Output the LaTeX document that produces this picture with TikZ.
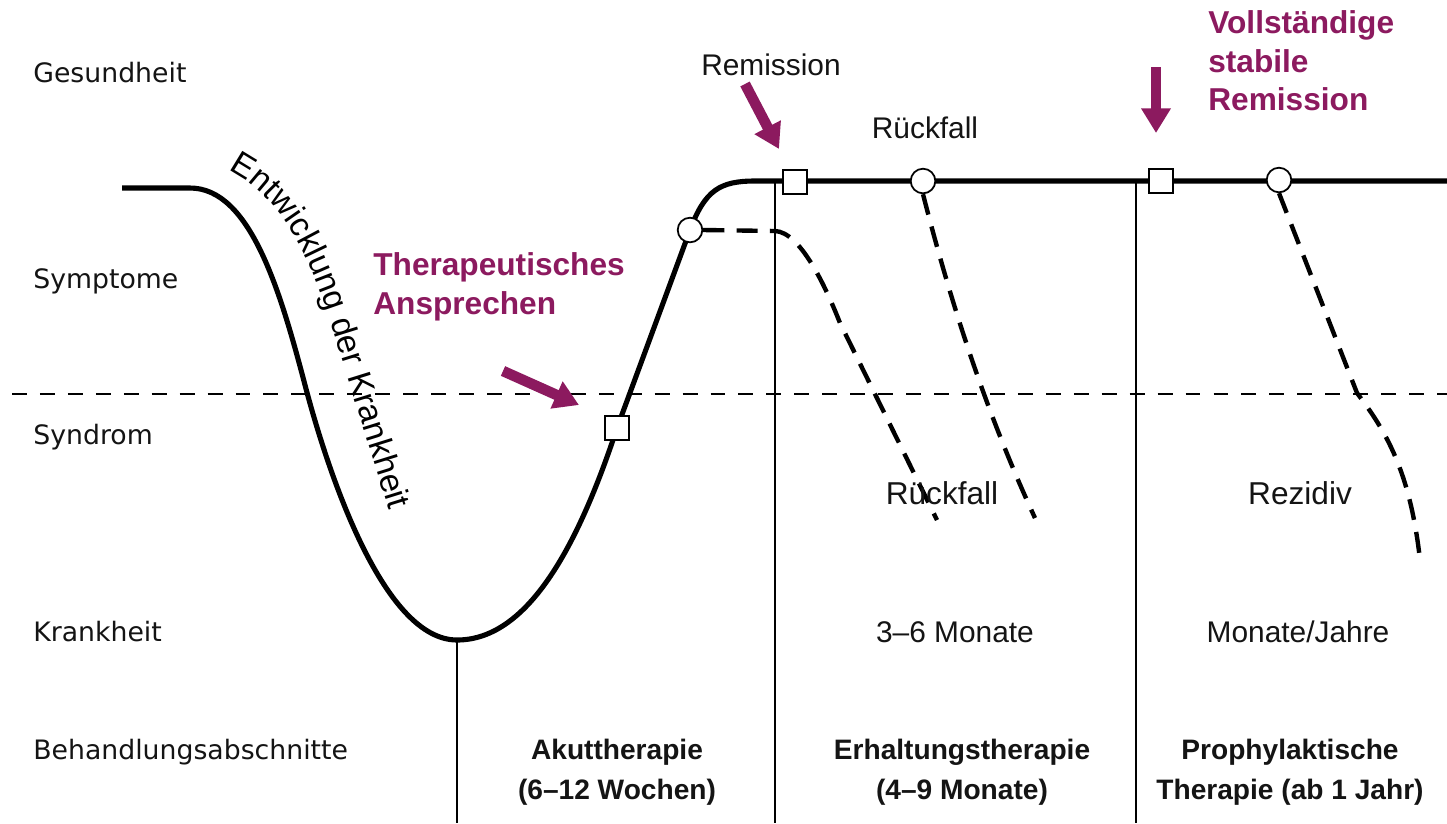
\documentclass[tikz,border=0pt]{standalone}
\usepackage{fontspec}
\setmainfont{Liberation Sans}
\newfontfamily\lvlfont{DejaVu Sans}
\usepackage{tikz}
\usetikzlibrary{arrows.meta,decorations.text}
\definecolor{TxPurple}{RGB}{140,26,95}
\definecolor{TxDark}{RGB}{20,20,20}

\begin{document}
\begin{tikzpicture}[x=0.2mm,y=-0.2mm,
    lvl/.style={font=\lvlfont\fontsize{15.2}{18}\selectfont,anchor=west,
                inner sep=0pt,text=TxDark},
    note/.style={font=\fontsize{17}{20}\selectfont,inner sep=0pt,text=TxDark},
    phase/.style={font=\bfseries\fontsize{16}{22.7}\selectfont,align=center,
                  inner sep=0pt,text=TxDark},
    hint/.style={font=\bfseries\fontsize{18}{22}\selectfont,text=TxPurple,
                 align=left,anchor=west,inner sep=0pt},
    course/.style={line width=2.9pt,line join=round},
    relapse/.style={line width=2.5pt,dash pattern=on 12pt off 7pt},
    sep/.style={line width=1.1pt},
    thresh/.style={line width=1pt,dash pattern=on 8.5pt off 7.4pt},
    sqmark/.style={draw,fill=white,line width=1pt,minimum size=14pt,inner sep=0pt},
    rmark/.style={draw,circle,fill=white,line width=1pt,minimum size=14pt,inner sep=0pt},
    parr/.style={-{Triangle[length=14pt,width=16pt]},line width=6pt,color=TxPurple}
  ]
  \path[use as bounding box,fill=white] (0,0) rectangle (1447,823);
  \coordinate (thL) at (12,394);
  \coordinate (thR) at (1447,394);
  \coordinate (bot) at (0,823);
  \coordinate (low) at (457,640);
  \coordinate (topA) at (775,181);
  \coordinate (topB) at (1136,181);
  \draw[thresh] (thL) -- (thR);
  \draw[sep] (low) -- (low |- bot);
  \draw[sep] (topA) -- (topA |- bot);
  \draw[sep] (topB) -- (topB |- bot);
  \draw[course] (122,188) -- (190,188) .. controls (250,188) and (280,290) .. (305,385)
    .. controls (330,480) and (385,640) .. (low)
    .. controls (530,640) and (580,540) .. (617,428) -- (690,230)
    .. controls (705,190) and (720,181) .. (755,181) -- (1447,181);
  \node[sqmark] (resp) at (617,428) {};
  \node[rmark] (part) at (690,230) {};
  \node[sqmark] (remi) at (795,182) {};
  \node[rmark] (rfA) at (923,181) {};
  \node[sqmark] (stab) at (1161,181) {};
  \node[rmark] (rfB) at (1279,180) {};
  \draw[relapse] (part.east) -- (775,231) .. controls (800,232) and (825,285) .. (840,323)
    -- (937,520);
  \draw[relapse] (rfA.south) .. controls (950,300) and (985,410) .. (1035,518);
  \draw[relapse] (rfB.south) -- (1357,393) .. controls (1385,430) and (1410,470) .. (1420,560);
  \path[decorate,decoration={text along path,text align=left,
      text={|\fontsize{19}{19}\selectfont|Entwicklung der Krankheit}}]
    (228,170) .. controls (284,198) and (312,262) .. (333,330) -- (400,545);
  \node[lvl] (gesund) at (33,73) {Gesundheit};
  \node[lvl] (sympt) at (33,281) {Symptome};
  \node[lvl] (syndr) at (33,437) {Syndrom};
  \node[lvl] (krank) at (33,632) {Krankheit};
  \node[lvl] (behand) at (33,752) {Behandlungsabschnitte};
  \node[note] (remlbl) at (771,65) {Remission};
  \node[note] (rueckA) at (925,128) {Rückfall};
  \node[note,font=\fontsize{18}{20}\selectfont] (rueckB) at (942,493) {Rückfall};
  \node[note,font=\fontsize{18}{20}\selectfont] (rezid) at (1300,493) {Rezidiv};
  \node[note] (durA) at (955,632) {3--6 Monate};
  \node[note] (durB) at (1298,632) {Monate/Jahre};
  \node[phase] (akut) at (617,772) {Akuttherapie\\(6--12 Wochen)};
  \node[phase] (erhalt) at (962,772) {Erhaltungstherapie\\(4--9 Monate)};
  \node[phase] (prophy) at (1290,772) {Prophylaktische\\Therapie (ab 1 Jahr)};
  \node[hint] (ansp) at (373,287) {Therapeutisches\\Ansprechen};
  \node[hint] (vollst) at (1208,61) {Vollständige\\stabile\\Remission};
  \coordinate (remT) at (745,84);
  \coordinate (remH) at (779,149);
  \coordinate (anspT) at (503,371);
  \coordinate (anspH) at (579,405);
  \coordinate (vollT) at (1156,67);
  \coordinate (vollH) at (1156,133);
  \draw[parr] (remT) -- (remH);
  \draw[parr] (anspT) -- (anspH);
  \draw[parr] (vollT) -- (vollH);
\end{tikzpicture}
\end{document}
